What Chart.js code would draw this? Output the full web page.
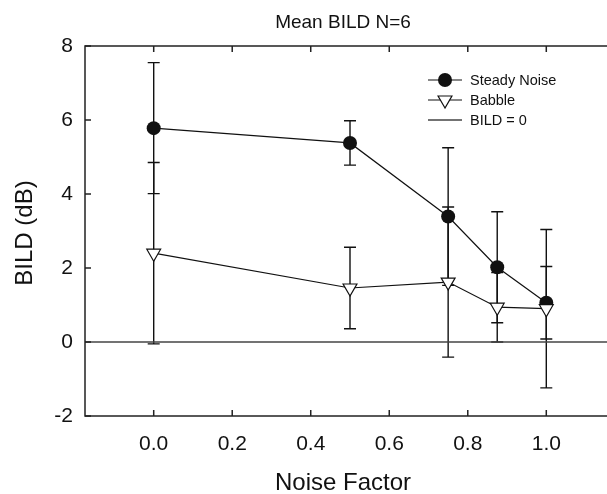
<!DOCTYPE html>
<html><head><meta charset="utf-8">
<script src="https://cdn.jsdelivr.net/npm/chart.js@4"></script>
<style>html,body{margin:0;padding:0;overflow:hidden;background:#fff}canvas{display:block}</style>
</head><body>
<canvas id="c" width="615" height="494" style="width:615px;height:494px"></canvas>
<script>
const noiseFactor = [0, 0.5, 0.75, 0.875, 1.0];
const steadyMean = [5.78, 5.38, 3.39, 2.02, 1.06];
const steadyErr  = [1.77, 0.60, 1.86, 1.50, 0.98];
const babbleMean = [2.40, 1.46, 1.62, 0.94, 0.90];
const babbleErr  = [2.45, 1.10, 2.03, 0.94, 2.14];
const zeroLineX = [-0.175, 1.175];
const zeroLineY = [0, 0];
const xTicks = [0, 0.2, 0.4, 0.6, 0.8, 1.0];
const yTicks = [-2, 0, 2, 4, 6, 8];
const seriesNames = ['Steady Noise', 'Babble', 'BILD = 0'];
const chartTitle = 'Mean BILD N=6';
const xTitle = 'Noise Factor';
const yTitle = 'BILD (dB)';

const FONT = '"Liberation Sans", Arial, Helvetica, sans-serif';
const INK = '#111';

const pts = (xs, ys) => xs.map((x, i) => ({x, y: ys[i]}));

const errorBars = {
  id: 'errorBars',
  beforeDatasetsDraw(chart) {
    const {ctx, scales: {x, y}} = chart;
    ctx.save();
    ctx.strokeStyle = INK;
    ctx.lineWidth = 1.4;
    chart.data.datasets.forEach(ds => {
      if (!ds.errors) return;
      ds.data.forEach((p, i) => {
        const e = ds.errors[i];
        const px = x.getPixelForValue(p.x);
        const top = y.getPixelForValue(p.y + e);
        const bot = y.getPixelForValue(p.y - e);
        ctx.beginPath();
        ctx.moveTo(px, top); ctx.lineTo(px, bot);
        ctx.moveTo(px - 6, top); ctx.lineTo(px + 6, top);
        ctx.moveTo(px - 6, bot); ctx.lineTo(px + 6, bot);
        ctx.stroke();
      });
    });
    ctx.restore();
  }
};

function tri(ctx, cx, cy, r) {
  ctx.beginPath();
  for (let k = 0; k < 3; k++) {
    const a = Math.PI + k * 2 * Math.PI / 3;
    const vx = cx + Math.sin(a) * r;
    const vy = cy - Math.cos(a) * r;
    if (k === 0) ctx.moveTo(vx, vy); else ctx.lineTo(vx, vy);
  }
  ctx.closePath();
}

const decor = {
  id: 'decor',
  afterDraw(chart) {
    const {ctx, chartArea: a, scales: {x, y}} = chart;
    ctx.save();
    ctx.strokeStyle = '#222';
    ctx.lineWidth = 1.5;
    ctx.strokeRect(a.left, a.top, a.right - a.left, a.bottom - a.top);
    ctx.beginPath();
    xTicks.forEach(v => {
      const px = x.getPixelForValue(v);
      ctx.moveTo(px, a.bottom); ctx.lineTo(px, a.bottom - 6);
      ctx.moveTo(px, a.top); ctx.lineTo(px, a.top + 6);
    });
    yTicks.forEach(v => {
      const py = y.getPixelForValue(v);
      ctx.moveTo(a.left, py); ctx.lineTo(a.left + 6, py);
      ctx.moveTo(a.right, py); ctx.lineTo(a.right - 6, py);
    });
    ctx.stroke();

    ctx.fillStyle = INK;
    ctx.textAlign = 'center';
    ctx.textBaseline = 'alphabetic';
    ctx.font = '19px ' + FONT;
    ctx.fillText(chartTitle, 343, 28);
    ctx.font = '24px ' + FONT;
    ctx.fillText(xTitle, 343, 490);
    ctx.save();
    ctx.translate(32, 233);
    ctx.rotate(-Math.PI / 2);
    ctx.fillText(yTitle, 0, 0);
    ctx.restore();

    const lx0 = 428, lx1 = 462, mx = 445, tx = 470;
    const rows = [80, 100, 120];
    ctx.font = '14.5px ' + FONT;
    ctx.textAlign = 'left';
    ctx.textBaseline = 'middle';
    rows.forEach((ry, i) => {
      ctx.strokeStyle = i === 2 ? '#444' : INK;
      ctx.lineWidth = i === 2 ? 1.5 : 1.2;
      ctx.beginPath(); ctx.moveTo(lx0, ry); ctx.lineTo(lx1, ry); ctx.stroke();
      ctx.lineWidth = 1.2;
      ctx.strokeStyle = INK;
      if (i === 0) {
        ctx.fillStyle = INK;
        ctx.beginPath(); ctx.arc(mx, ry, 7, 0, Math.PI * 2); ctx.fill();
      } else if (i === 1) {
        ctx.fillStyle = '#fff';
        tri(ctx, mx, ry, 8); ctx.fill(); ctx.stroke();
      }
      ctx.fillStyle = INK;
      ctx.fillText(seriesNames[i], tx, ry + 1);
    });
    ctx.restore();
  }
};

new Chart(document.getElementById('c'), {
  type: 'scatter',
  data: {
    datasets: [
      {
        label: seriesNames[0],
        data: pts(noiseFactor, steadyMean),
        errors: steadyErr,
        showLine: true,
        borderColor: INK,
        borderWidth: 1.2,
        backgroundColor: INK,
        pointStyle: 'circle',
        pointRadius: 7,
        pointBorderWidth: 0,
        pointBackgroundColor: INK,
        order: 2
      },
      {
        label: seriesNames[1],
        data: pts(noiseFactor, babbleMean),
        errors: babbleErr,
        showLine: true,
        borderColor: INK,
        borderWidth: 1.2,
        pointStyle: 'triangle',
        pointRotation: 180,
        pointRadius: 8,
        pointBorderWidth: 1.2,
        pointBorderColor: INK,
        pointBackgroundColor: '#fff',
        order: 1
      },
      {
        label: seriesNames[2],
        data: pts(zeroLineX, zeroLineY),
        showLine: true,
        borderColor: '#444',
        borderWidth: 1.5,
        pointRadius: 0,
        order: 3
      }
    ]
  },
  options: {
    responsive: false,
    devicePixelRatio: 1,
    animation: false,
    layout: {autoPadding: false, padding: {top: 46, right: 0, left: 0, bottom: 0}},
    plugins: {legend: {display: false}, title: {display: false}, tooltip: {enabled: false}},
    scales: {
      x: {
        type: 'linear',
        min: zeroLineX[0],
        max: zeroLineX[1],
        afterBuildTicks: s => { s.ticks = xTicks.map(v => ({value: v})); },
        afterFit: s => { s.height = 78; s.paddingLeft = 0; s.paddingRight = 0; },
        grid: {display: false, drawTicks: false},
        border: {display: false},
        ticks: {
          callback: v => Number(v).toFixed(1),
          font: {family: FONT, size: 21},
          color: INK,
          padding: 16,
          maxRotation: 0,
          autoSkip: false
        }
      },
      y: {
        type: 'linear',
        min: yTicks[0],
        max: yTicks[yTicks.length - 1],
        afterBuildTicks: s => { s.ticks = yTicks.map(v => ({value: v})); },
        afterFit: s => { s.width = 85; s.paddingTop = 0; s.paddingBottom = 0; },
        grid: {display: false, drawTicks: false},
        border: {display: false},
        ticks: {
          callback: v => String(v),
          font: {family: FONT, size: 21},
          color: INK,
          padding: 12,
          autoSkip: false
        }
      }
    }
  },
  plugins: [errorBars, decor]
});
</script>
</body></html>
